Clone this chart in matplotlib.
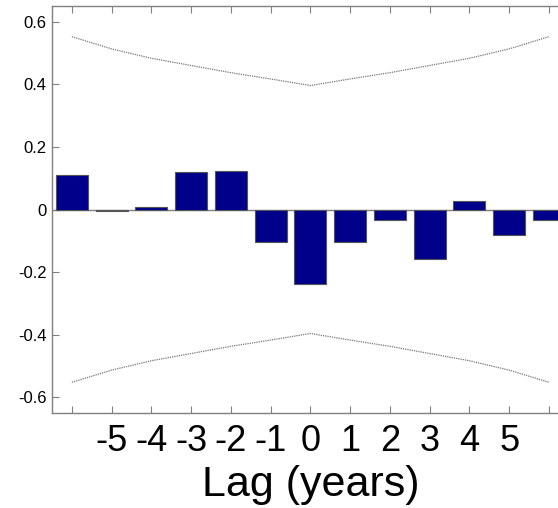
import numpy as np
import matplotlib.pyplot as plt

plt.rcParams['font.family'] = ['Liberation Sans', 'DejaVu Sans']

lags = [-6, -5, -4, -3, -2, -1, 0, 1, 2, 3, 4, 5, 6]
corr = [0.109, -0.004, 0.008, 0.119, 0.123, -0.104, -0.239,
        -0.104, -0.035, -0.157, 0.028, -0.083, -0.034]
upper = [0.552, 0.513, 0.483, 0.460, 0.437, 0.417, 0.396,
         0.417, 0.437, 0.460, 0.483, 0.513, 0.552]
lower = [-u for u in upper]
xticks = [-5, -4, -3, -2, -1, 0, 1, 2, 3, 4, 5]
yticks = [-0.6, -0.4, -0.2, 0, 0.2, 0.4, 0.6]

fig = plt.figure(figsize=(5.58, 5.08), dpi=100)
ax = fig.add_axes([52/558, 95/508, 516.75/558, 407/508])

ax.axhline(0, color='#808080', lw=1, zorder=1)
ax.bar(lags, corr, width=0.81, color='#00008b', edgecolor='#555555',
       linewidth=0.8, zorder=2)
ax.plot(lags, upper, color='#777777', lw=0.9, ls=(0, (1, 0.8)), zorder=3)
ax.plot(lags, lower, color='#777777', lw=0.9, ls=(0, (1, 0.8)), zorder=3)

ax.set_xlim(-6.5, 6.5)
ax.set_ylim(-0.65, 0.65)

ax.set_xticks(lags)
ax.set_xticklabels([str(l) if l in xticks else '' for l in lags], fontsize=26)
ax.set_yticks(yticks)
ax.set_yticklabels(['-0.6', '-0.4', '-0.2', '0', '0.2', '0.4', '0.6'], fontsize=12)
ax.tick_params(axis='x', direction='in', length=5, color='#808080', top=True, pad=8)
ax.tick_params(axis='y', direction='in', length=5, color='#808080', right=False, pad=4)
for s in ax.spines.values():
    s.set_color('#808080')
    s.set_linewidth(1)

ax.set_xlabel('Lag (years)', fontsize=31, labelpad=4)

fig.savefig('out.png', dpi=100)
